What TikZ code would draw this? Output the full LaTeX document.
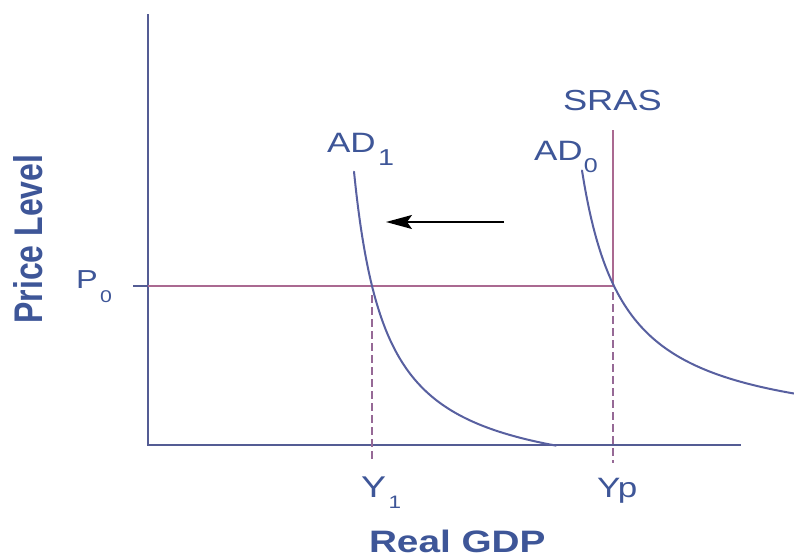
\documentclass[tikz,border=0pt]{standalone}
\usepackage{fontspec}
\setmainfont{Liberation Sans}
\usetikzlibrary{arrows.meta}
\definecolor{txt}{RGB}{62,86,152}
\definecolor{axiscol}{RGB}{84,92,148}
\definecolor{curvecol}{RGB}{88,96,160}
\definecolor{pinkcol}{RGB}{170,105,145}
\definecolor{dashcol}{RGB}{150,105,150}
\newcommand{\hs}[1]{\scalebox{1.25}[1]{#1}}
\newcommand{\fsz}[1]{\fontsize{#1}{#1}\selectfont}
\begin{document}
\begin{tikzpicture}[x=1pt,y=-1pt,
  lbl/.style={inner sep=0pt, outer sep=0pt, text=txt, anchor=base west},
  axisline/.style={draw=axiscol, line width=2pt},
  curveline/.style={draw=curvecol, line width=2pt, line cap=round},
  levelline/.style={draw=pinkcol, line width=1.5pt},
  dropline/.style={draw=dashcol, line width=1.6pt, dash pattern=on 8pt off 4pt}]
\useasboundingbox (0,0) rectangle (794,557);
\fill[white] (0,0) rectangle (794,557);
% coordinates
\coordinate (Ytop) at (148,14);
\coordinate (O) at (148,445);
\coordinate (Xend) at (741,445);
\coordinate (Tick) at (133,286);
\coordinate (Pax) at (148,286);
\coordinate (E0) at (613,286);
\coordinate (E1) at (372,286);
\coordinate (Stop) at (613,130);
\coordinate (D1top) at (372,295);
\coordinate (D1bot) at (372,461);
\coordinate (D0top) at (613,292);
\coordinate (D0bot) at (613,463);
\coordinate (Astart) at (504,222);
\coordinate (Aend) at (386,222);
% axes
\draw[axisline] (Ytop) -- (O) -- (Xend);
\draw[axiscol, line width=1.5pt] (Tick) -- (Pax);
% price level and SRAS
\draw[levelline] (Pax) -- (E0);
\draw[levelline] (Stop) -- (E0);
% dashed drops
\draw[dropline] (D1top) -- (D1bot);
\draw[dropline] (D0top) -- (D0bot);
% AD curves
\draw[curveline] plot[domain=354:556, samples=90, smooth] (\x, {489 - 10153/(\x-322)});
\draw[curveline] plot[domain=582:794, samples=90, smooth] (\x, {437.7 - 11223/(\x-540)});
% shift arrow
\draw[black, line width=1.5pt, -{Stealth[length=26pt,width=14pt,inset=5pt]}] (Astart) -- (Aend);
% labels
\node[lbl] (sras) at (563,110) {\hs{\fsz{29}SRAS}};
\node[lbl] (ad1) at (327,152) {\hs{\fsz{28}AD\kern2pt\raisebox{-13pt}{\fsz{23}1}}};
\node[lbl] (ad0) at (534,160) {\hs{\fsz{28}AD\kern1pt\raisebox{-12pt}{\fsz{20}0}}};
\node[lbl] (p0) at (76,288) {\hs{\fsz{26}P\kern2pt\raisebox{-14pt}{\fsz{17}0}}};
\node[lbl] (y1) at (361,497) {\hs{\fsz{30}Y\kern2pt\raisebox{-11pt}{\fsz{18}1}}};
\node[lbl] (yp) at (597,497) {\hs{\fsz{28}Yp}};
\node[lbl] (xlab) at (369,552) {\hs{\fsz{31}\bfseries Real GDP}};
\node[inner sep=0pt, outer sep=0pt, text=txt, anchor=east] (ylab) at (43,239) {\scalebox{1.25}[1]{\rotatebox{90}{\fsz{32}\bfseries Price Level}}};
\end{tikzpicture}
\end{document}
